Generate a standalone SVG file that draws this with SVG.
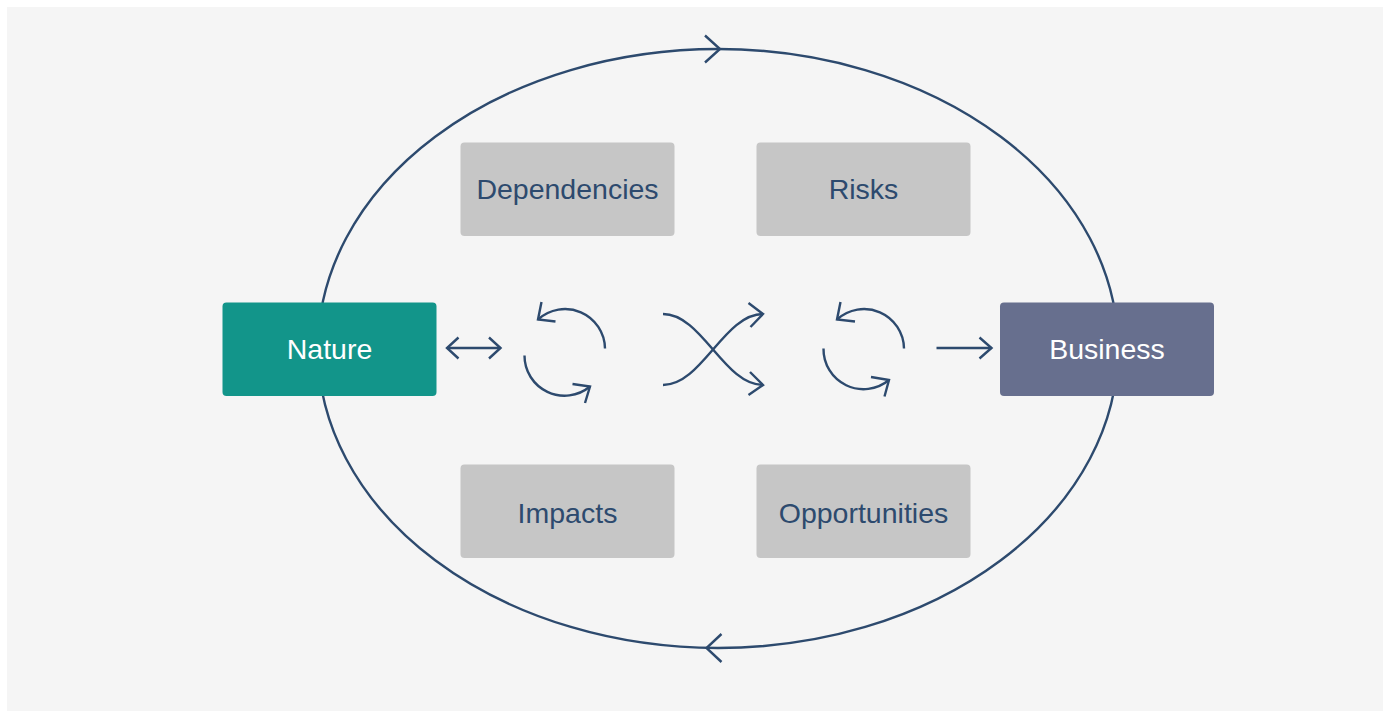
<svg xmlns="http://www.w3.org/2000/svg" width="1389" height="711" viewBox="0 0 1389 711">
  <style>
    .ln { fill: none; stroke: #2d4a6e; stroke-width: 2.4; stroke-linecap: butt; stroke-linejoin: miter; }
    .box { fill: #c6c6c6; }
    .lbl { font-family: "Liberation Sans", Arial, sans-serif; font-size: 28.5px; text-anchor: middle; fill: #2d4a6e; }
    .wlbl { font-family: "Liberation Sans", Arial, sans-serif; font-size: 28.5px; text-anchor: middle; fill: #ffffff; }
  </style>
  <rect x="0" y="0" width="1389" height="711" fill="#ffffff"/>
  <rect x="7" y="7" width="1376" height="704" fill="#f5f5f5"/>

  <g id="connectors">
    <!-- outer cycle -->
    <ellipse class="ln" cx="718" cy="348.5" rx="400" ry="299.5"/>
    <polyline class="ln" points="705,35.5 720,49 705,62.5"/>
    <polyline class="ln" points="721.5,634 706.5,648 721.5,662"/>
    <!-- double arrow -->
    <line class="ln" x1="447" y1="348" x2="500.5" y2="348"/>
    <polyline class="ln" points="458.5,337.5 447,348 458.5,358.5"/>
    <polyline class="ln" points="489,337.5 500.5,348 489,358.5"/>
    <!-- cycle icon 1 -->
    <path class="ln" d="M 605 348.5 A 40 40 0 0 0 538 319.5"/>
    <polyline class="ln" points="541.5,302 538,319.5 555.5,321.5"/>
    <path class="ln" d="M 524.5 355.5 A 40 40 0 0 0 590 386.5"/>
    <polyline class="ln" points="572.5,384 590,386.5 585,403"/>
    <!-- crossing arrows -->
    <path class="ln" d="M 663 314 C 702 314, 724 385, 763 385"/>
    <path class="ln" d="M 663 385 C 702 385, 724 314, 763 314"/>
    <polyline class="ln" points="748.5,303 763,314 750.5,327"/>
    <polyline class="ln" points="750,372 763,385 748.5,395"/>
    <!-- cycle icon 2 -->
    <path class="ln" d="M 904 348.5 A 40 40 0 0 0 837 319.5"/>
    <polyline class="ln" points="840.5,302 837,319.5 855,321.5"/>
    <path class="ln" d="M 823.5 348.5 A 40 40 0 0 0 889 380"/>
    <polyline class="ln" points="871,377 889,380 884.5,396.5"/>
    <!-- right arrow -->
    <line class="ln" x1="936.5" y1="348" x2="991.5" y2="348"/>
    <polyline class="ln" points="979.5,337.5 991.5,348 979.5,358.5"/>
  </g>

  <g id="nature">
    <rect x="222.5" y="302.5" width="214" height="93.5" rx="4" fill="#12958a"/>
    <text class="wlbl" x="329.5" y="358.5">Nature</text>
  </g>
  <g id="business">
    <rect x="1000" y="302.5" width="214" height="93.5" rx="4" fill="#676f8e"/>
    <text class="wlbl" x="1107" y="358.5">Business</text>
  </g>
  <g id="dependencies">
    <rect class="box" x="460.5" y="142.5" width="214" height="93.5" rx="4"/>
    <text class="lbl" x="567.5" y="198.5">Dependencies</text>
  </g>
  <g id="risks">
    <rect class="box" x="756.5" y="142.5" width="214" height="93.5" rx="4"/>
    <text class="lbl" x="863.5" y="198.5">Risks</text>
  </g>
  <g id="impacts">
    <rect class="box" x="460.5" y="464.5" width="214" height="93.5" rx="4"/>
    <text class="lbl" x="567.5" y="522.5">Impacts</text>
  </g>
  <g id="opportunities">
    <rect class="box" x="756.5" y="464.5" width="214" height="93.5" rx="4"/>
    <text class="lbl" x="863.5" y="522.5">Opportunities</text>
  </g>
</svg>
